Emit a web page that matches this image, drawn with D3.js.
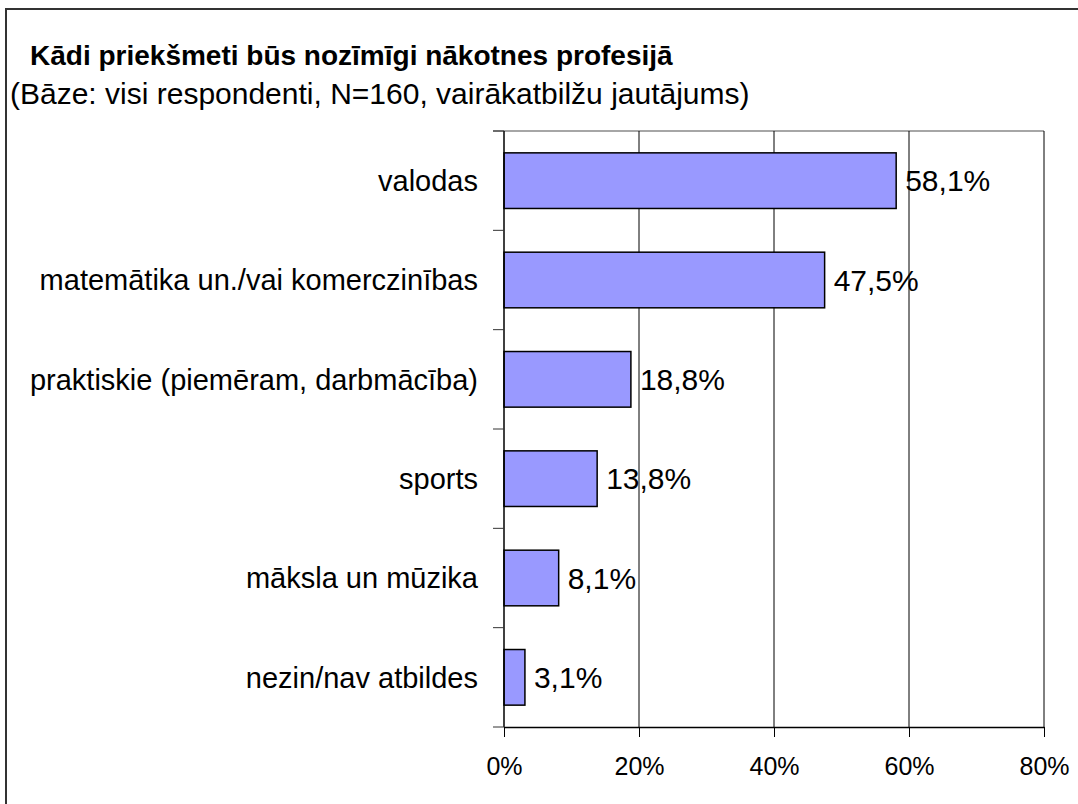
<!DOCTYPE html>
<html>
<head>
<meta charset="utf-8">
<script src="https://cdn.jsdelivr.net/npm/d3@7"></script>
<style>
  html, body { margin: 0; padding: 0; background: #fff; }
  svg { display: block; font-family: "Liberation Sans", Arial, sans-serif; }
</style>
</head>
<body>
<svg id="chart" width="1078" height="804"></svg>
<script>
// Survey answers: which subjects will matter for a future profession
const categories = [
  "valodas",
  "matemātika un./vai komerczinības",
  "praktiskie (piemēram, darbmācība)",
  "sports",
  "māksla un mūzika",
  "nezin/nav atbildes"
];
const values = [58.1, 47.5, 18.8, 13.8, 8.1, 3.1];
const tickValues = [0, 20, 40, 60, 80];
const tickLabels = ["0%", "20%", "40%", "60%", "80%"];
const titleText = "Kādi priekšmeti būs nozīmīgi nākotnes profesijā";
const subtitleText = "(Bāze: visi respondenti, N=160, vairākatbilžu jautājums)";

const svg = d3.select("#chart");
const W = 1078, H = 804;

// Outer frame (right and bottom edges fall outside the canvas)
svg.append("rect")
  .attr("x", 6).attr("y", 9).attr("width", W + 10).attr("height", H + 10)
  .attr("fill", "none").attr("stroke", "#333").attr("stroke-width", 2);

svg.append("text")
  .attr("x", 30).attr("y", 65)
  .attr("font-size", 28).attr("font-weight", "bold").attr("fill", "#000")
  .text(titleText);

svg.append("text")
  .attr("x", 10).attr("y", 104)
  .attr("font-size", 30).attr("fill", "#000")
  .text(subtitleText);

const plotLeft = 504, plotRight = 1044, plotTop = 131, plotBottom = 727;

const x = d3.scaleLinear().domain([0, 80]).range([plotLeft, plotRight]);
const y = d3.scaleBand().domain(categories).range([plotTop, plotBottom])
  .paddingInner(0.44).paddingOuter(0.22);
const step = y.step();

// Plot-area top edge
svg.append("line")
  .attr("x1", plotLeft - 11).attr("x2", plotRight)
  .attr("y1", plotTop).attr("y2", plotTop)
  .attr("stroke", "#888").attr("stroke-width", 1.5);

// Vertical gridlines
svg.append("g").selectAll("line")
  .data(tickValues.slice(1))
  .join("line")
  .attr("x1", d => x(d)).attr("x2", d => x(d))
  .attr("y1", plotTop).attr("y2", plotBottom)
  .attr("stroke", "#000").attr("stroke-width", 1);

// Bars
svg.append("g").selectAll("rect")
  .data(values)
  .join("rect")
  .attr("x", x(0))
  .attr("y", (d, i) => y(categories[i]))
  .attr("width", d => x(d) - x(0))
  .attr("height", y.bandwidth())
  .attr("fill", "#9999FF")
  .attr("stroke", "#000").attr("stroke-width", 1.5);

// Value labels
svg.append("g").selectAll("text")
  .data(values)
  .join("text")
  .attr("x", d => x(d) + 9)
  .attr("y", (d, i) => y(categories[i]) + y.bandwidth() / 2)
  .attr("dy", "0.36em")
  .attr("font-size", 30).attr("fill", "#000")
  .text(d => d3.format(".1f")(d).replace(".", ",") + "%");

// Category axis
const yAxisG = svg.append("g");
yAxisG.append("line")
  .attr("x1", plotLeft).attr("x2", plotLeft).attr("y1", plotTop).attr("y2", plotBottom)
  .attr("stroke", "#000").attr("stroke-width", 1.5);
const boundaries = d3.range(categories.length + 1).map(i => plotTop + i * step);
yAxisG.selectAll("line.tick")
  .data(boundaries)
  .join("line").attr("class", "tick")
  .attr("x1", plotLeft - 11).attr("x2", plotLeft)
  .attr("y1", d => d).attr("y2", d => d)
  .attr("stroke", "#333").attr("stroke-width", 1);
yAxisG.selectAll("text")
  .data(categories)
  .join("text")
  .attr("x", 478)
  .attr("y", d => y(d) + y.bandwidth() / 2)
  .attr("dy", "0.36em")
  .attr("text-anchor", "end")
  .attr("font-size", 29).attr("fill", "#000")
  .text(d => d);

// Value axis
const xAxis = d3.axisBottom(x)
  .tickValues(tickValues)
  .tickFormat((d, i) => tickLabels[i])
  .tickSize(10).tickSizeOuter(0).tickPadding(20);
const xg = svg.append("g").attr("transform", `translate(0,${plotBottom})`).call(xAxis);
xg.select(".domain").attr("stroke", "#000").attr("stroke-width", 1.5);
xg.selectAll(".tick line").attr("stroke", "#000");
xg.selectAll(".tick text")
  .attr("font-size", 25).attr("fill", "#000")
  .attr("font-family", "'Liberation Sans', Arial, sans-serif");
</script>
</body>
</html>
